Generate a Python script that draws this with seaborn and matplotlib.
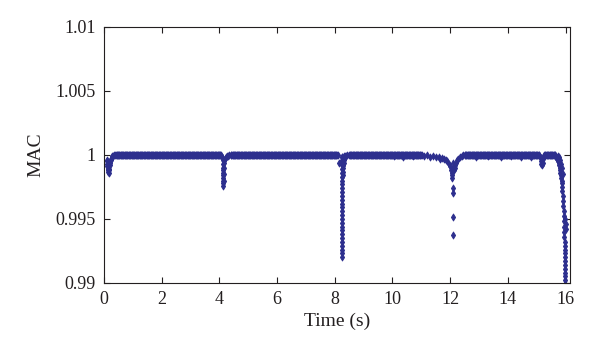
"""
MAC al llarg del temps: punts diamant, caigudes puntuals a ~0.2, 4, 8, 12 i 16 s.
"""
import numpy as np
import pandas as pd
import matplotlib
matplotlib.use("Agg")
import matplotlib.pyplot as plt
import seaborn as sns

# =========================
# DADES (llegides del gràfic)
# =========================
# trams on el MAC es manté a 1.0 (inici, final)
plateau_segments = [(0.40, 4.08), (4.40, 8.12), (8.50, 11.00),
                    (12.50, 15.10), (15.26, 15.64)]
plateau_step = 0.02

# caiguda inicial (~0.1-0.4 s)
dip0_t = [0.10, 0.11, 0.12, 0.12, 0.13, 0.14, 0.15, 0.16, 0.17, 0.18, 0.19,
          0.20, 0.21, 0.22, 0.24, 0.26, 0.28, 0.30, 0.33, 0.36]
dip0_mac = [0.9996, 0.9993, 0.9991, 0.9995, 0.9989, 0.9988, 0.9992, 0.9987,
            0.9986, 0.9989, 0.9988, 0.9992, 0.9994, 0.9995, 0.9996, 0.9997,
            0.9998, 0.9999, 0.9999, 1.0]

# caiguda a ~4 s
dip4_t = [4.10, 4.12, 4.12, 4.12, 4.13, 4.13, 4.13, 4.14, 4.14, 4.14, 4.14,
          4.15, 4.15, 4.15, 4.16, 4.18, 4.20, 4.23, 4.26, 4.30, 4.35]
dip4_mac = [0.9998, 0.9996, 0.9993, 0.9990, 0.9988, 0.9986, 0.9984, 0.9982,
            0.9980, 0.9978, 0.9976, 0.9990, 0.9985, 0.9980, 0.9994, 0.9996,
            0.9997, 0.9998, 0.9999, 0.9999, 1.0]

# caiguda a ~8 s
dip8_t = [8.16, 8.24, 8.24, 8.24, 8.25, 8.25, 8.25, 8.25, 8.25, 8.25, 8.25,
          8.25, 8.25, 8.25, 8.25, 8.25, 8.25, 8.25, 8.25, 8.25, 8.25, 8.25,
          8.25, 8.25, 8.25, 8.25, 8.25, 8.25, 8.25, 8.25,
          8.27, 8.28, 8.29, 8.30, 8.31, 8.32, 8.33, 8.35, 8.37, 8.40, 8.44,
          8.27, 8.29, 8.31, 8.33]
dip8_mac = [0.9994, 0.9998, 0.9995, 0.9992, 0.9989, 0.9986, 0.9983, 0.9980,
            0.9977, 0.9974, 0.9971, 0.9968, 0.9965, 0.9962, 0.9959, 0.9956,
            0.9953, 0.9950, 0.9947, 0.9944, 0.9941, 0.9938, 0.9935, 0.9932,
            0.9929, 0.9926, 0.9923, 0.9920, 0.9998, 0.9996,
            0.9984, 0.9987, 0.9990, 0.9992, 0.9994, 0.9996, 0.9997, 0.9998,
            0.9999, 0.9999, 1.0,
            0.9992, 0.9995, 0.9997, 0.9999]

# tram lleugerament irregular i caiguda a ~12 s
dip12_t = [11.04, 11.10, 11.20, 11.30, 11.40, 11.50, 11.60, 11.66, 11.72,
           11.78, 11.84, 11.90, 11.96, 12.00, 12.04, 12.06, 12.07, 12.07,
           12.08, 12.08, 12.08, 12.08, 12.08, 12.08,
           12.14, 12.16, 12.18, 12.20, 12.24, 12.28, 12.34, 12.40, 12.46]
dip12_mac = [1.0, 0.99995, 1.0, 0.99985, 0.9999, 0.9998, 0.9998, 0.9997,
             0.99975, 0.9997, 0.9996, 0.9995, 0.9993, 0.9991, 0.9988, 0.9986,
             0.9984, 0.9982, 0.9974, 0.9970, 0.99516, 0.99375, 0.9990, 0.9994,
             0.9988, 0.9990, 0.9992, 0.9994, 0.9996, 0.9997, 0.9998, 0.9999,
             1.0]

# irregularitats petites entre 10 i 15 s
jitter_t = [10.05, 10.35, 10.70, 12.90, 13.30, 13.75, 14.10, 14.45, 14.80]
jitter_mac = [0.9999, 0.99985, 0.9999, 0.99985, 0.9999, 0.99985, 0.9999,
              0.99985, 0.9998]

# final (~15-16 s)
dip16_t = [15.12, 15.14, 15.16, 15.18, 15.20, 15.22, 15.24,
           15.66, 15.68, 15.70, 15.72, 15.74, 15.76, 15.78, 15.80, 15.81,
           15.82, 15.84, 15.85, 15.86, 15.87, 15.88, 15.89, 15.90, 15.91,
           15.92, 15.93, 15.94, 15.94, 15.95, 15.95, 15.95, 15.96, 15.96,
           15.96, 15.96, 15.96, 15.96, 15.96, 15.96, 15.96, 15.96, 15.96,
           15.96,
           15.72, 15.76, 15.80, 15.84, 15.88, 15.92, 15.98, 16.00, 16.02]
dip16_mac = [0.9998, 0.9995, 0.9993, 0.9992, 0.9994, 0.9997, 0.9999,
             0.99985, 0.9998, 0.9997, 0.9996, 0.9995, 0.9994, 0.9992, 0.9990,
             0.9988, 0.9986, 0.9984, 0.9982, 0.9980, 0.9978, 0.9975, 0.9972,
             0.9968, 0.9964, 0.9960, 0.9956, 0.9952, 0.9948, 0.9944, 0.9940,
             0.9936, 0.9932, 0.9929, 0.9926, 0.9923, 0.9920, 0.9917, 0.9914,
             0.9911, 0.9908, 0.9905, 0.9902, 0.9899,
             0.9999, 0.9998, 0.9996, 0.9993, 0.9990, 0.9985, 0.9950, 0.9946,
             0.9942]

# =========================
# TAULA
# =========================
t_plateau = np.concatenate([np.arange(a, b, plateau_step)
                            for a, b in plateau_segments])
mac_plateau = np.ones_like(t_plateau)

df = pd.DataFrame({
    "t": np.concatenate([t_plateau, dip0_t, dip4_t, dip8_t, dip12_t,
                         jitter_t, dip16_t]),
    "mac": np.concatenate([mac_plateau, dip0_mac, dip4_mac, dip8_mac,
                           dip12_mac, jitter_mac, dip16_mac]),
})

# =========================
# GRÀFIC
# =========================
sns.set_style("ticks")
plt.rcParams["font.family"] = ["Liberation Serif", "DejaVu Serif"]

fig = plt.figure(figsize=(6.0, 3.59), dpi=100)
ax = fig.add_axes([0.173, 0.212, 0.777, 0.713])

sns.scatterplot(data=df, x="t", y="mac", ax=ax, marker="d", s=13,
                color="#2d2f8e", edgecolor="#2d2f8e", linewidth=0.6,
                legend=False)

ax.set_xlim(0, 16.15)
ax.set_ylim(0.99, 1.01)
ax.set_xticks(np.arange(0, 17, 2))
ax.set_yticks([0.99, 0.995, 1.0, 1.005, 1.01])
ax.set_yticklabels(["0.99", "0.995", "1", "1.005", "1.01"])
ax.tick_params(direction="in", length=4, width=0.8, labelsize=13,
               colors="#231f20", pad=6, top=True, right=True)
for sp in ax.spines.values():
    sp.set_linewidth(0.8)
    sp.set_color("#231f20")

ax.set_xlabel("Time (s)", fontsize=14, color="#231f20", labelpad=3)
ax.set_ylabel("MAC", fontsize=14, color="#231f20", labelpad=8)

fig.savefig("out.png", dpi=100)
